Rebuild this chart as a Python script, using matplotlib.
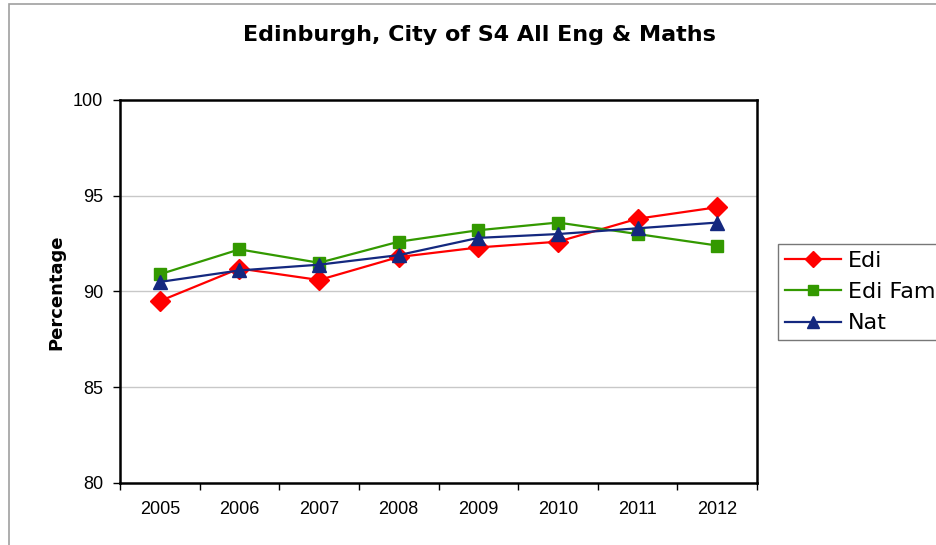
import matplotlib
matplotlib.use('Agg')
import matplotlib.pyplot as plt
from matplotlib.patches import Rectangle
import numpy as np

# values
years = ['2005', '2006', '2007', '2008', '2009', '2010', '2011', '2012']
edi = [89.5, 91.2, 90.6, 91.8, 92.3, 92.6, 93.8, 94.4]
edi_fam = [90.9, 92.2, 91.5, 92.6, 93.2, 93.6, 93.0, 92.4]
nat = [90.5, 91.1, 91.4, 91.9, 92.8, 93.0, 93.3, 93.6]
y_ticks = [80, 85, 90, 95, 100]

W, H = 936, 545
fig = plt.figure(figsize=(W / 100, H / 100), dpi=100)
fig.patch.set_facecolor('white')

# outer chart border (right and bottom edges are cropped in the original)
fig.patches.append(Rectangle((8.5 / W, -0.1), 1.2, 1.1 - 4.5 / H, transform=fig.transFigure,
                             fill=False, edgecolor='#a0a0a0', linewidth=1.2))

ax = fig.add_axes([120 / W, 1 - 483 / H, (757 - 120) / W, (483 - 100) / H])
x = np.arange(len(years))

ax.plot(x, edi, color='#ff0000', lw=1.6, marker='D', ms=10.5, mec='#ff0000', label='Edi', zorder=3)
ax.plot(x, edi_fam, color='#339900', lw=1.6, marker='s', ms=8.5, mec='#339900', label='Edi Fam', zorder=4)
ax.plot(x, nat, color='#14287f', lw=1.6, marker='^', ms=10, mec='#14287f', label='Nat', zorder=5)

ax.set_xlim(-0.5, len(years) - 0.5)
ax.set_ylim(80, 100)
ax.set_yticks(y_ticks)
ax.set_yticklabels([str(v) for v in y_ticks], fontfamily='Liberation Sans', fontsize=13)
ax.set_xticks(x)
ax.set_xticklabels(years, fontfamily='Liberation Sans', fontsize=13)
ax.set_xticks(np.arange(-0.5, len(years)), minor=True)
ax.tick_params(axis='x', which='major', length=0, pad=13)
ax.tick_params(axis='x', which='minor', length=5, width=1, direction='out')
ax.tick_params(axis='y', length=5, width=1, direction='out', pad=7)

for v in [85, 90, 95]:
    ax.axhline(v, color='#c8c8c8', lw=1, zorder=1)

for s in ax.spines.values():
    s.set_color('black')
    s.set_linewidth(1.8)

fig.text(479 / W, 1 - 41 / H, 'Edinburgh, City of S4 All Eng & Maths', ha='center', va='baseline',
         fontfamily='DejaVu Sans', fontweight='bold', fontsize=16)
fig.text(56 / W, 1 - 292 / H, 'Percentage', rotation=90, ha='center', va='center',
         fontfamily='DejaVu Sans', fontweight='bold', fontsize=13)

leg = ax.legend(loc='upper left', bbox_to_anchor=(778 / W, 1 - 244 / H), bbox_transform=fig.transFigure,
                frameon=True, fancybox=False, borderaxespad=0, prop={'family': 'DejaVu Sans', 'size': 16},
                handlelength=2.5, handletextpad=0.32, labelspacing=0.5, borderpad=0.32, markerscale=0.8)
leg.get_frame().set_edgecolor('#555555')
leg.get_frame().set_linewidth(1)

plt.savefig('out.png', dpi=100)
